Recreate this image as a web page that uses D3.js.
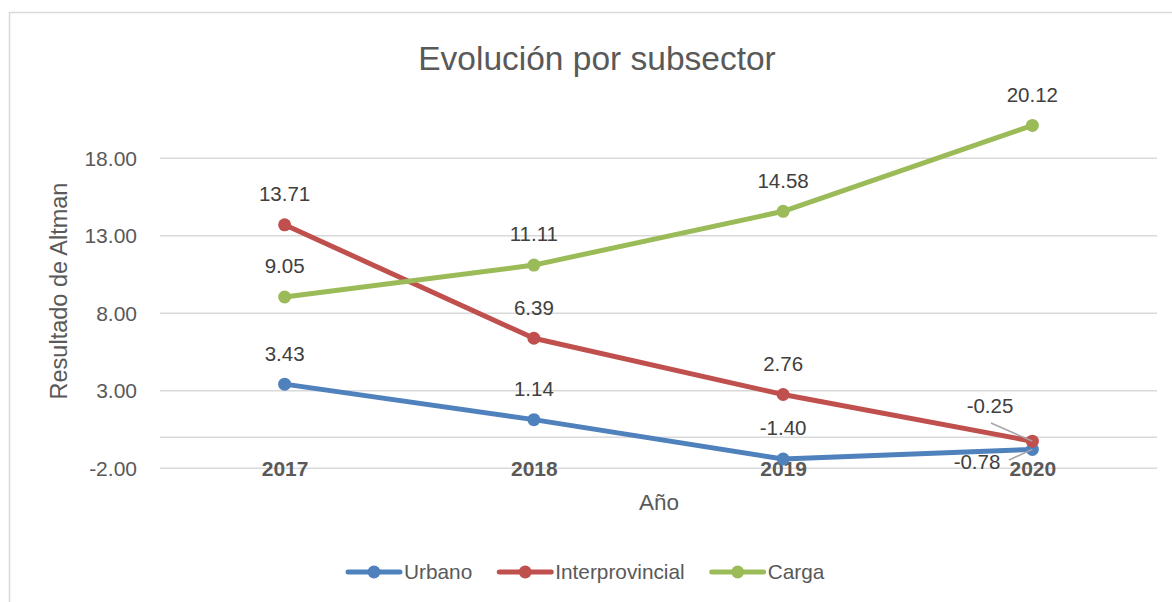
<!DOCTYPE html>
<html><head><meta charset="utf-8">
<script src="https://cdnjs.cloudflare.com/ajax/libs/d3/7.8.5/d3.min.js"></script>
<style>body{margin:0;background:#fff}svg{display:block}text{font-family:"Liberation Sans",Arial,sans-serif}</style>
</head><body><svg id="c" width="1172" height="602"></svg>
<script>
const categories = ["2017","2018","2019","2020"];
const urbano = [3.43, 1.14, -1.40, -0.78];
const interprovincial = [13.71, 6.39, 2.76, -0.25];
const carga = [9.05, 11.11, 14.58, 20.12];
const seriesNames = ["Urbano","Interprovincial","Carga"];
const yTicks = [-2, 3, 8, 13, 18];

const colors = ["#4f81bd","#c0504d","#9bbb59"];
const series = [urbano, interprovincial, carga].map((v,i)=>({name:seriesNames[i], values:v, color:colors[i]}));

const locale = d3.formatLocale({decimal:".", thousands:",", grouping:[3], currency:["",""], minus:"-"});
const fmt = locale.format(".2f");

const svg = d3.select("#c");
svg.append("rect").attr("x",9.5).attr("y",12.5).attr("width",1300).attr("height",800)
  .attr("fill","#fff").attr("stroke","#d9d9d9").attr("stroke-width",1.5);

const x = d3.scalePoint().domain(categories).range([160,1157]).padding(0.5);
const y = d3.scaleLinear().domain([-2,18]).range([468.3,158.3]);

// title
svg.append("text").attr("x",597).attr("y",70).attr("text-anchor","middle")
  .attr("font-size",33.5).attr("fill","#595959").text("Evolución por subsector");

// gridlines
const g = svg.append("g");
g.selectAll("line.grid").data(yTicks).join("line").attr("class","grid")
  .attr("x1",160).attr("x2",1157).attr("y1",d=>y(d)).attr("y2",d=>y(d))
  .attr("stroke","#d9d9d9").attr("stroke-width",1.5);
// horizontal axis line at 0
g.append("line").attr("x1",160).attr("x2",1157).attr("y1",y(0)).attr("y2",y(0))
  .attr("stroke","#d9d9d9").attr("stroke-width",1.5);

// y axis
const yAxis = d3.axisLeft(y).tickValues(yTicks).tickFormat(fmt).tickSize(0).tickPadding(0);
const ya = svg.append("g").attr("transform","translate(137,0)").call(yAxis);
ya.select(".domain").remove();
ya.selectAll("text").attr("font-size",21).attr("fill","#595959").attr("font-family","Liberation Sans, Arial, sans-serif");

// x axis labels (low position)
const xAxis = d3.axisBottom(x).tickSize(0).tickPadding(0);
const xa = svg.append("g").attr("transform","translate(0,461)").call(xAxis);
xa.select(".domain").remove();
xa.selectAll("text").attr("font-size",21).attr("font-weight","bold").attr("fill","#595959")
  .attr("font-family","Liberation Sans, Arial, sans-serif");

// axis titles
svg.append("text").attr("transform","translate(67,291) rotate(-90)").attr("text-anchor","middle")
  .attr("font-size",23.5).attr("fill","#595959").text("Resultado de Altman");
svg.append("text").attr("x",659).attr("y",510).attr("text-anchor","middle")
  .attr("font-size",22.5).attr("fill","#595959").text("Año");

// lines
const line = d3.line().x((d,i)=>x(categories[i])).y(d=>y(d));
const sg = svg.append("g");
series.forEach(s=>{
  sg.append("path").datum(s.values).attr("d",line).attr("fill","none")
    .attr("stroke",s.color).attr("stroke-width",5).attr("stroke-linejoin","round").attr("stroke-linecap","round");
  sg.selectAll(null).data(s.values).join("circle")
    .attr("cx",(d,i)=>x(categories[i])).attr("cy",d=>y(d)).attr("r",6.5).attr("fill",s.color);
});

// data labels
const lg = svg.append("g");
const last = categories.length-1;
lg.append("line").attr("x1",991).attr("y1",423).attr("x2",x(categories[last])).attr("y2",y(interprovincial[last]))
  .attr("stroke","#a6a6a6").attr("stroke-width",1.5);
lg.append("line").attr("x1",1009).attr("y1",460).attr("x2",x(categories[last])).attr("y2",y(urbano[last]))
  .attr("stroke","#a6a6a6").attr("stroke-width",1.5);
series.forEach((s,si)=>{
  s.values.forEach((v,i)=>{
    let lx = x(categories[i]), ly = y(v)-31;
    if(i===last && si===0){ lx = 977; ly = 462; }
    if(i===last && si===1){ lx = 990; ly = 406; }
    lg.append("text").attr("x",lx).attr("y",ly).attr("dy","0.36em").attr("text-anchor","middle")
      .attr("font-size",20.5).attr("fill","#404040").text(fmt(v));
  });
});

// legend
const leg = svg.append("g");
let lx = 348; const ly = 572;
series.forEach(s=>{
  leg.append("line").attr("x1",lx).attr("x2",lx+52).attr("y1",ly).attr("y2",ly)
    .attr("stroke",s.color).attr("stroke-width",5).attr("stroke-linecap","round");
  leg.append("circle").attr("cx",lx+26).attr("cy",ly).attr("r",6.5).attr("fill",s.color);
  const t = leg.append("text").attr("x",lx+56).attr("y",ly).attr("dy","0.36em")
    .attr("font-size",20.8).attr("fill","#595959").text(s.name);
  lx = lx + 56 + t.node().getComputedTextLength() + 27;
});
</script></body></html>
